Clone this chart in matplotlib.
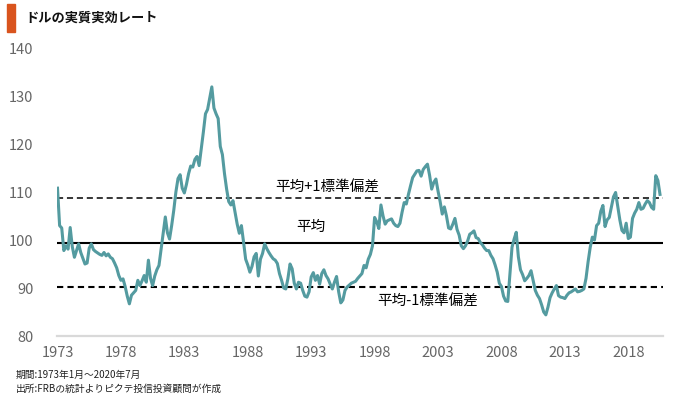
import numpy as np
import matplotlib
matplotlib.use("Agg")
import matplotlib.pyplot as plt
from matplotlib.patches import Rectangle

plt.rcParams["font.family"] = ["Noto Sans CJK JP", "DejaVu Sans"]

# =========================
# DATOS (bimensual: ene, mar, may, jul, sep, nov)
# =========================
start_year = 1973
tasa = [
    110.8, 103.0, 102.5, 97.8, 98.8, 98.1,     # 1973
    102.6, 98.6, 96.4, 97.8, 99.2, 97.4,       # 1974
    96.2, 95.0, 95.2, 98.3, 99.2, 98.0,        # 1975
    97.6, 97.3, 97.0, 96.8, 97.4, 96.7,        # 1976
    97.1, 96.4, 96.1, 95.2, 94.2, 92.6,        # 1977
    91.6, 91.9, 90.3, 88.3, 86.7, 88.5,        # 1978
    89.0, 89.5, 91.6, 90.5, 91.5, 92.6,        # 1979
    91.2, 95.8, 92.0, 90.5, 92.5, 93.8,        # 1980
    94.7, 98.1, 101.6, 104.8, 101.5, 100.2,    # 1981
    103.0, 106.2, 110.0, 112.8, 113.6, 110.8,  # 1982
    109.8, 111.6, 113.8, 115.4, 115.2, 116.8,  # 1983
    117.4, 115.5, 119.0, 122.5, 126.3, 127.2,  # 1984
    129.6, 131.9, 127.5, 126.3, 125.3, 119.5,  # 1985
    117.8, 113.8, 110.6, 108.0, 107.3, 108.2,  # 1986
    105.7, 103.3, 101.4, 103.0, 99.6, 96.0,    # 1987
    94.8, 93.3, 94.5, 96.5, 97.2, 92.5,        # 1988
    96.0, 97.2, 99.2, 98.2, 97.4, 96.7,        # 1989
    96.1, 95.8, 95.1, 93.0, 91.6, 90.0,        # 1990
    89.8, 92.0, 95.0, 94.0, 91.0, 89.8,        # 1991
    91.2, 91.0, 89.5, 88.3, 88.1, 89.2,        # 1992
    92.3, 93.2, 91.6, 92.6, 90.8, 93.0,        # 1993
    93.8, 92.6, 91.9, 90.8, 89.8, 91.2,        # 1994
    92.4, 89.2, 86.9, 87.5, 89.5, 90.2,        # 1995
    90.6, 91.0, 91.2, 91.4, 92.0, 92.5,        # 1996
    93.0, 94.7, 94.2, 96.0, 97.0, 98.8,        # 1997
    104.7, 103.8, 102.4, 107.3, 105.0, 103.3,  # 1998
    104.0, 104.2, 104.4, 103.5, 103.0, 102.8,  # 1999
    103.5, 105.8, 107.8, 107.5, 109.5, 111.3,  # 2000
    113.0, 113.7, 114.4, 114.5, 113.3, 114.7,  # 2001
    115.3, 115.8, 113.5, 110.6, 112.0, 112.7,  # 2002
    110.2, 108.0, 105.4, 106.9, 105.0, 102.5,  # 2003
    102.3, 103.3, 104.5, 102.2, 101.0, 98.8,   # 2004
    98.2, 98.8, 99.8, 101.2, 101.5, 101.9,     # 2005
    100.5, 100.3, 99.5, 99.0, 98.3, 97.8,      # 2006
    97.8, 96.8, 96.1, 94.8, 93.3, 91.0,        # 2007
    90.3, 88.3, 87.3, 87.2, 93.0, 98.5,        # 2008
    100.2, 101.6, 96.5, 93.8, 92.8, 91.5,      # 2009
    92.0, 92.6, 93.6, 91.5, 89.5, 88.5,        # 2010
    87.8, 86.5, 85.0, 84.4, 86.0, 88.0,        # 2011
    89.0, 89.8, 90.5, 88.4, 88.1, 88.0,        # 2012
    87.8, 88.5, 89.0, 89.2, 89.5, 89.8,        # 2013
    89.2, 89.3, 89.5, 89.8, 92.0, 95.5,        # 2014
    98.5, 100.6, 100.0, 103.0, 103.5, 106.0,   # 2015
    107.2, 102.8, 104.2, 104.7, 106.8, 109.0,  # 2016
    109.9, 107.0, 104.2, 102.0, 101.5, 103.5,  # 2017
    100.3, 100.6, 104.5, 105.6, 106.4, 107.8,  # 2018
    106.4, 106.6, 107.5, 108.2, 107.8, 106.8,  # 2019
    106.4, 113.4, 112.4, 109.5,                # 2020
]

media = 99.45
desv = 9.2

anios_ticks = [1973, 1978, 1983, 1988, 1993, 1998, 2003, 2008, 2013, 2018]
y_ticks = [80, 90, 100, 110, 120, 130, 140]

titulo = "ドルの実質実効レート"
nota1 = "期間:1973年1月～2020年7月"
nota2 = "出所:FRBの統計よりピクテ投信投資顧問が作成"

# =========================
# FIGURA
# =========================
W, H = 680, 397
fig = plt.figure(figsize=(W / 100, H / 100), dpi=100)
ax = fig.add_axes([57 / W, 1 - 336 / H, (663 - 57) / W, (336 - 48) / H])

t = start_year + np.arange(len(tasa)) * 2 / 12
ax.plot(t, tasa, color="#549BA0", lw=2.2, solid_joinstyle="round", zorder=3)

ax.axhline(media, color="black", lw=1.5, zorder=2)
ax.axhline(media + desv, color="black", lw=1.1, ls=(0, (4, 2.5)), zorder=2)
ax.axhline(media - desv, color="black", lw=1.5, ls=(0, (3, 2)), zorder=2)

ax.text(1994.25, 110.9, "平均+1標準偏差", ha="center", va="center", fontsize=10.5)
ax.text(1993.0, 102.8, "平均", ha="center", va="center", fontsize=10.5)
ax.text(2002.2, 87.1, "平均-1標準偏差", ha="center", va="center", fontsize=10.5)

ax.set_xlim(1973 - 0.5 / 12.684, 2020.5 + 3 / 12.684)
ax.set_ylim(80, 140)
ax.set_xticks(anios_ticks)
ax.set_xticklabels([str(a) for a in anios_ticks])
ax.set_yticks(y_ticks)
ax.tick_params(length=0, labelsize=10.5, labelcolor="#666666")
ax.tick_params(axis="y", pad=17)
ax.tick_params(axis="x", pad=7)
for s in ["top", "right", "left"]:
    ax.spines[s].set_visible(False)
ax.spines["bottom"].set_color("#D9D9D9")
ax.spines["bottom"].set_linewidth(1.6)

# titulo con barra naranja
fig.patches.append(Rectangle((7 / W, 1 - 32 / H), 8 / W, 28 / H,
                             transform=fig.transFigure, color="#D9541E"))
fig.text(25 / W, 1 - 18 / H, titulo, fontsize=9.5, fontweight="bold",
         va="center", color="#111111")

fig.text(16 / W, 1 - 375 / H, nota1, fontsize=7, va="center", color="#222222")
fig.text(16 / W, 1 - 388.5 / H, nota2, fontsize=7, va="center", color="#222222")

fig.savefig("out.png", dpi=100)
